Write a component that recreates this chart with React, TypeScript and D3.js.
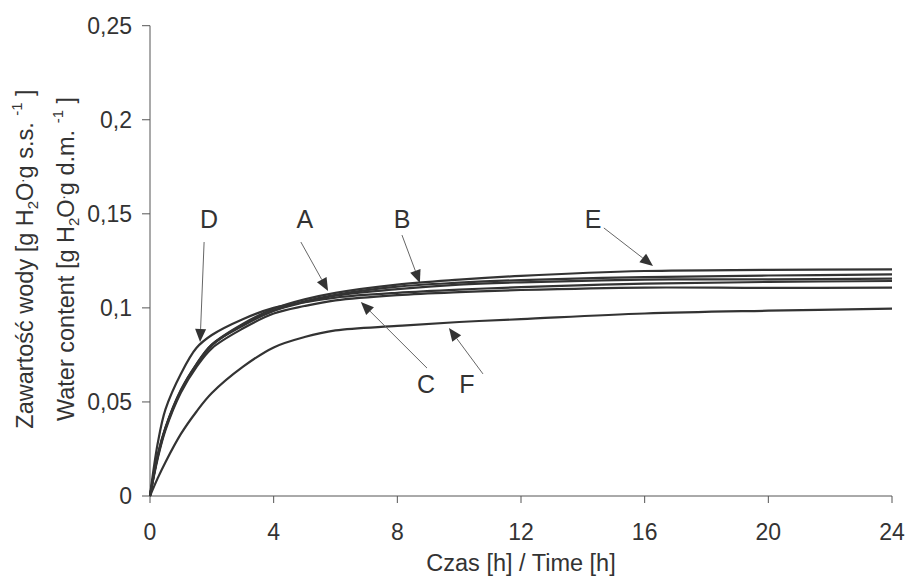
import React, { useMemo } from "react";
import { scaleLinear, line, curveCatmullRom } from "d3";

const WIDTH = 906;
const HEIGHT = 576;
const PLOT = { left: 150, right: 892, top: 25.7, bottom: 496 };
const FONT = "'Liberation Sans', Arial, Helvetica, sans-serif";

// hours
const times = [0, 0.25, 0.5, 1, 1.5, 2, 3, 4, 5, 6, 8, 10, 12, 16, 20, 24];

// water content [g H2O / g d.m.]
const seriesA = [0, 0.022, 0.0365, 0.0565, 0.07, 0.0805, 0.0905, 0.0985, 0.103, 0.1065, 0.11, 0.1124, 0.1136, 0.115, 0.1152, 0.1155];
const seriesB = [0, 0.021, 0.036, 0.056, 0.0695, 0.08, 0.091, 0.0985, 0.1035, 0.107, 0.1113, 0.1134, 0.1148, 0.1164, 0.1172, 0.1178];
const seriesC = [0, 0.02, 0.035, 0.055, 0.0685, 0.0785, 0.089, 0.097, 0.101, 0.104, 0.1068, 0.1084, 0.1095, 0.1108, 0.1106, 0.1108];
const seriesD = [0, 0.028, 0.046, 0.065, 0.0787, 0.0856, 0.094, 0.1, 0.103, 0.1055, 0.108, 0.1097, 0.111, 0.1129, 0.1138, 0.1143];
const seriesE = [0, 0.021, 0.036, 0.056, 0.07, 0.0805, 0.0915, 0.0995, 0.1045, 0.108, 0.1124, 0.115, 0.117, 0.1196, 0.1202, 0.1205];
const seriesF = [0, 0.0095, 0.018, 0.033, 0.0448, 0.0547, 0.0686, 0.079, 0.0845, 0.088, 0.0904, 0.0925, 0.094, 0.097, 0.0985, 0.0996];

const xTicks = [0, 4, 8, 12, 16, 20, 24];
const yTicks = [0, 0.05, 0.1, 0.15, 0.2, 0.25];
const yTickLabels = ["0", "0,05", "0,1", "0,15", "0,2", "0,25"];

// annotation labels and their arrows, in data units (t, value)
const labelNames = ["D", "A", "B", "E", "C", "F"];
const labelPos = [[1.91, 0.1425], [5.01, 0.1425], [8.15, 0.1425], [14.33, 0.1425], [8.93, 0.0548], [10.25, 0.0548]];
const arrowTail = [[1.75, 0.135], [4.88, 0.135], [8.15, 0.1387], [14.68, 0.1425], [8.96, 0.068], [10.77, 0.0649]];
const arrowTip = [[1.62, 0.0819], [5.76, 0.109], [8.73, 0.1132], [16.27, 0.1223], [6.82, 0.1031], [9.67, 0.0893]];

export default function App() {
  const x = useMemo(() => scaleLinear().domain([0, 24]).range([PLOT.left, PLOT.right]), []);
  const y = useMemo(() => scaleLinear().domain([0, 0.25]).range([PLOT.bottom, PLOT.top]), []);

  const allSeries = [seriesA, seriesB, seriesC, seriesD, seriesE, seriesF];
  const gen = line<number>()
    .x((_, i) => x(times[i]))
    .y((d) => y(d))
    .curve(curveCatmullRom.alpha(0.5));

  return (
    <svg
      width={WIDTH}
      height={HEIGHT}
      style={{ position: "absolute", left: 0, top: 0, background: "#fff", display: "block" }}
      fontFamily={FONT}
    >
      {/* axes */}
      <line x1={PLOT.left} y1={y(0.25)} x2={PLOT.left} y2={PLOT.bottom} stroke="#555" strokeWidth={1} />
      <line x1={PLOT.left} y1={PLOT.bottom} x2={PLOT.right} y2={PLOT.bottom} stroke="#555" strokeWidth={1} />
      {yTicks.map((t, i) => (
        <g key={t}>
          <line x1={PLOT.left - 8} x2={PLOT.left} y1={y(t)} y2={y(t)} stroke="#555" />
          <text x={PLOT.left - 18} y={y(t) + 8} textAnchor="end" fontSize={23} fill="#333">
            {yTickLabels[i]}
          </text>
        </g>
      ))}
      {xTicks.map((t) => (
        <g key={t}>
          <line x1={x(t)} x2={x(t)} y1={PLOT.bottom} y2={PLOT.bottom + 7} stroke="#555" />
          <text x={x(t)} y={540} textAnchor="middle" fontSize={23} fill="#333">
            {t}
          </text>
        </g>
      ))}

      {/* axis titles */}
      <text x={521} y={571} textAnchor="middle" fontSize={23.5} fill="#333">
        Czas [h] / Time [h]
      </text>
      <text transform="translate(33,259) rotate(-90)" textAnchor="middle" fontSize={23.5} fill="#333">
        Zawartość wody [g H<tspan fontSize={15} dy={5}>2</tspan>
        <tspan dy={-5}>O</tspan>
        <tspan dy={-9} fontSize={15}>.</tspan>
        <tspan dy={9}>g s.s. </tspan>
        <tspan fontSize={15} dy={-11}>-1</tspan>
        <tspan dy={11}> ]</tspan>
      </text>
      <text transform="translate(74,259) rotate(-90)" textAnchor="middle" fontSize={23.5} fill="#333">
        Water content [g H<tspan fontSize={15} dy={5}>2</tspan>
        <tspan dy={-5}>O</tspan>
        <tspan dy={-9} fontSize={15}>.</tspan>
        <tspan dy={9}>g d.m. </tspan>
        <tspan fontSize={15} dy={-11}>-1</tspan>
        <tspan dy={11}> ]</tspan>
      </text>

      {/* curves */}
      {allSeries.map((s, i) => (
        <path key={i} d={gen(s) || ""} fill="none" stroke="#333" strokeWidth={2.2} strokeLinejoin="round" />
      ))}

      {/* annotations */}
      {labelNames.map((name, i) => {
        const x1 = x(arrowTail[i][0]);
        const y1 = y(arrowTail[i][1]);
        const x2 = x(arrowTip[i][0]);
        const y2 = y(arrowTip[i][1]);
        const ang = Math.atan2(y2 - y1, x2 - x1);
        const len = 13;
        const hw = 5.5;
        const bx = x2 - len * Math.cos(ang);
        const by = y2 - len * Math.sin(ang);
        const px = -Math.sin(ang) * hw;
        const py = Math.cos(ang) * hw;
        return (
          <g key={name}>
            <line x1={x1} y1={y1} x2={bx} y2={by} stroke="#666" strokeWidth={1} />
            <path d={`M${x2},${y2}L${bx + px},${by + py}L${bx - px},${by - py}Z`} fill="#333" />
            <text x={x(labelPos[i][0])} y={y(labelPos[i][1])} textAnchor="middle" fontSize={25} fill="#333">
              {name}
            </text>
          </g>
        );
      })}
    </svg>
  );
}
